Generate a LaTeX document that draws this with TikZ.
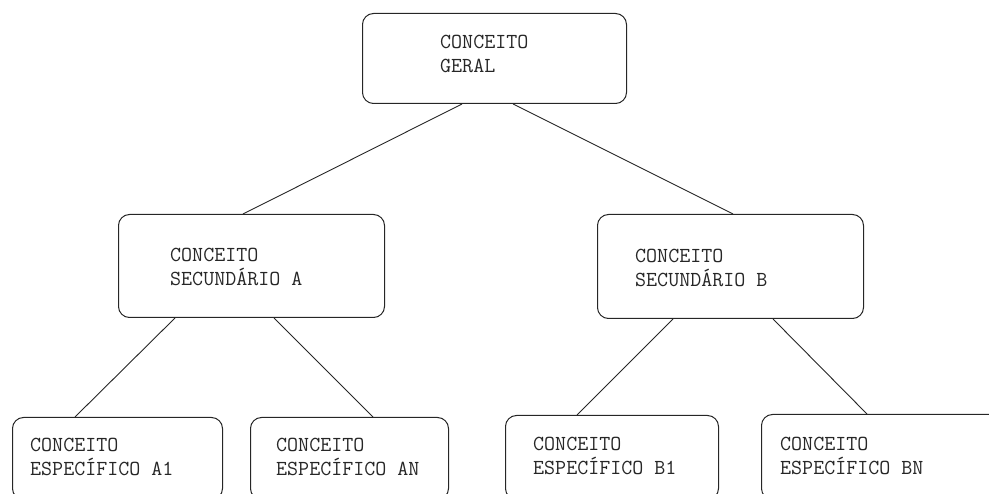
\documentclass[tikz,border=0pt]{standalone}
\usepackage{fontspec}
\begin{document}
\begin{tikzpicture}[x=1pt,y=1pt,
  box/.style={draw=black!85, line width=1pt, rounded corners=11pt, anchor=north west, inner sep=0pt},
  txt/.style={anchor=north west, inner sep=0pt, align=left, text=black!85, font=\ttfamily\fontsize{21.4}{23.5}\selectfont},
  link/.style={draw=black!85, line width=0.9pt}]
\useasboundingbox (0,0) rectangle (989,-494);
\clip (0,0) rectangle (989,-494);
% boxes
\node[box, minimum width=264, minimum height=90] (top) at (362,-13) {};
\node[box, minimum width=266, minimum height=103] (secA) at (118,-214) {};
\node[box, minimum width=266, minimum height=104] (secB) at (597,-214) {};
\node[box, minimum width=210, minimum height=82] (a1) at (12,-417) {};
\node[box, minimum width=198, minimum height=82] (an) at (250,-417) {};
\node[box, minimum width=213, minimum height=84] (b1) at (505,-415) {};
\node[box, minimum width=240, minimum height=85] (bn) at (761,-414) {};
% texts
\node[txt] (topT) at (440,-35) {CONCEITO\\GERAL};
\node[txt] (secAT) at (170,-248) {CONCEITO\\SECUNDÁRIO A};
\node[txt] (secBT) at (635,-249) {CONCEITO\\SECUNDÁRIO B};
\node[txt] (a1T) at (30,-438) {CONCEITO\\ESPECÍFICO A1};
\node[txt] (anT) at (276,-438) {CONCEITO\\ESPECÍFICO AN};
\node[txt] (b1T) at (533,-437) {CONCEITO\\ESPECÍFICO B1};
\node[txt] (bnT) at (780,-437) {CONCEITO\\ESPECÍFICO BN};
% connectors
\draw[link] ([xshift=100pt]top.south west) -- ([xshift=125pt]secA.north west);
\draw[link] ([xshift=151pt]top.south west) -- ([xshift=136pt]secB.north west);
\draw[link] ([xshift=57pt]secA.south west) -- ([xshift=63pt]a1.north west);
\draw[link] ([xshift=156pt]secA.south west) -- ([xshift=123pt]an.north west);
\draw[link] ([xshift=76pt]secB.south west) -- ([xshift=72pt]b1.north west);
\draw[link] ([xshift=176pt]secB.south west) -- ([xshift=106pt]bn.north west);
\end{tikzpicture}
\end{document}
